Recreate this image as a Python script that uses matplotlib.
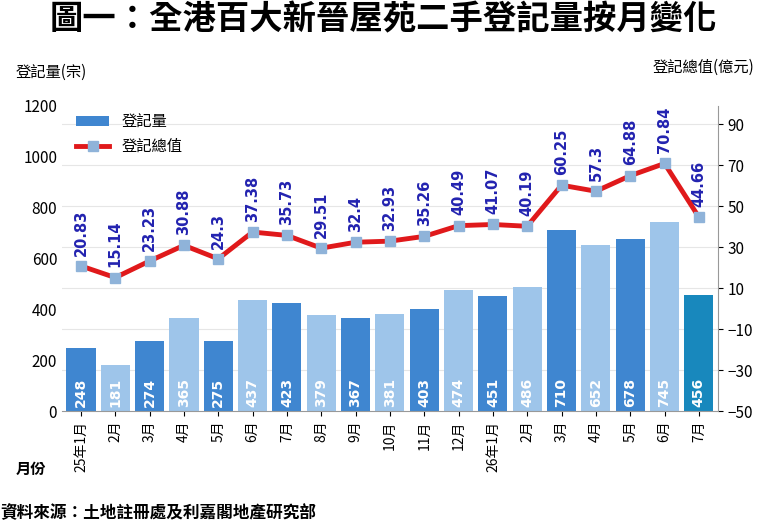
import matplotlib
matplotlib.use("Agg")
import matplotlib.pyplot as plt

plt.rcParams['font.family'] = ['Noto Sans CJK TC', 'DejaVu Sans']

months = ["25年1月", "2月", "3月", "4月", "5月", "6月", "7月", "8月", "9月", "10月",
          "11月", "12月", "26年1月", "2月", "3月", "4月", "5月", "6月", "7月"]
volume = [248, 181, 274, 365, 275, 437, 423, 379, 367, 381, 403, 474, 451, 486,
          710, 652, 678, 745, 456]
value = [20.83, 15.14, 23.23, 30.88, 24.3, 37.38, 35.73, 29.51, 32.4, 32.93,
         35.26, 40.49, 41.07, 40.19, 60.25, 57.3, 64.88, 70.84, 44.66]

DARK = "#3f86d0"
LIGHT = "#9ec5ea"
LAST = "#1888bd"
colors = [DARK if i % 2 == 0 else LIGHT for i in range(len(volume))]
colors[-1] = LAST

fig = plt.figure(figsize=(7.66, 5.29), dpi=100)
ax = fig.add_axes([0.081, 0.223, 0.856, 0.577])
x = range(len(volume))
ax.bar(x, volume, width=0.85, color=colors, zorder=2, label="登記量")
for i, v in enumerate(volume):
    ax.text(i, 15, str(v), rotation=90, ha="center", va="bottom", color="white",
            fontsize=10, fontweight="bold", family=["DejaVu Sans"], zorder=3)
ax.set_ylim(0, 1200)
ax.set_yticks(range(0, 1201, 200))
ax.set_xlim(-0.55, len(volume) - 0.45)
ax.set_xticks(list(x))
ax.set_xticklabels(months, rotation=90, fontsize=10)
ax.tick_params(axis="y", labelsize=11, length=0)
for s in ["top", "right", "left"]:
    ax.spines[s].set_visible(False)
ax.spines["bottom"].set_color("#999999")
# faint grid at right-axis tick levels, behind the bars
for r in range(-30, 91, 20):
    ax.axhline((r + 50) / 149 * 1200, color="#e6e6e6", lw=0.8, zorder=1)

ax2 = ax.twinx()
ax2.plot(x, value, color="#e0191b", lw=3.5, marker="s", markersize=7,
         markerfacecolor="#8fb3d9", markeredgecolor="#8fb3d9", zorder=4, label="登記總值")
for i, v in enumerate(value):
    ax2.text(i, v + 5, f"{v:g}", rotation=90, ha="center", va="bottom", color="#2323b0",
             fontsize=10.5, fontweight="bold", family=["DejaVu Sans"])
ax2.set_ylim(-50, 99)
ax2.set_yticks(range(-50, 91, 20))
ax2.tick_params(axis="y", labelsize=11)
for s in ["top", "left"]:
    ax2.spines[s].set_visible(False)
ax2.spines["right"].set_color("#999999")
ax2.spines["bottom"].set_visible(False)

h1, l1 = ax.get_legend_handles_labels()
h2, l2 = ax2.get_legend_handles_labels()
ax2.legend(h1 + h2, l1 + l2, loc="upper left", bbox_to_anchor=(0.0, 1.02), frameon=False,
           fontsize=11, handlelength=2.2)

fig.text(0.5, 0.962, "圖一：全港百大新晉屋苑二手登記量按月變化", ha="center", va="center",
         fontsize=24, fontweight="bold")
fig.text(0.02, 0.855, "登記量(宗)", fontsize=11)
fig.text(0.985, 0.865, "登記總值(億元)", fontsize=11, ha="right")
fig.text(0.02, 0.105, "月份", fontsize=11, fontweight="bold")
fig.text(0.0, 0.02, "資料來源：土地註冊處及利嘉閣地產研究部", fontsize=12, fontweight="bold")

fig.savefig("out.png", dpi=100)
